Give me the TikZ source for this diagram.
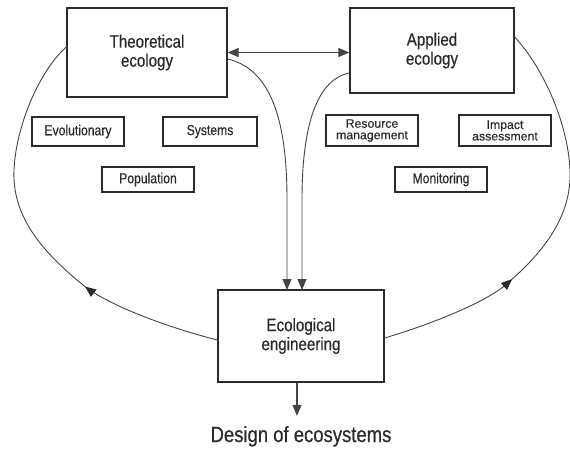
\documentclass[tikz,border=0pt]{standalone}
\usepackage{fontspec}
\setmainfont{Liberation Sans}[FakeStretch=0.84,FakeBold=0.5]
\newfontfamily\widefont{Liberation Sans}[FakeBold=0.5]
\usetikzlibrary{arrows.meta,decorations.markings}
\definecolor{ink}{HTML}{2B2B2B}
\definecolor{wire}{HTML}{444444}
\begin{document}
\begin{tikzpicture}[x=1pt,y=-1pt,
  >={Triangle[length=11pt,width=9pt]},
  box/.style={draw=ink,line width=1.3pt,inner sep=0pt,align=center,text=ink},
  bigbox/.style={box,font=\fontsize{18}{19}\selectfont},
  tag/.style={box,line width=1.1pt,font=\fontsize{14.5}{12}\selectfont},
  tagtwo/.style={box,line width=1.1pt,font=\widefont\fontsize{12.3}{11.5}\selectfont},
  flow/.style={draw=wire,line width=0.9pt},
  midarrow/.style={postaction={decorate},decoration={markings,
    mark=at position #1 with {\arrow[ink]{Triangle[length=11pt,width=9pt]}}}}
]
\useasboundingbox (0,0) rectangle (570,448);

% main boxes
\node[bigbox,minimum width=160pt,minimum height=89pt] (theo) at (147,52.5) {Theoretical\\ecology};
\node[bigbox,minimum width=164pt,minimum height=85pt] (app) at (432,50.5) {Applied\\ecology};
\node[bigbox,minimum width=166pt,minimum height=92pt] (eco) at (301,336) {Ecological\\engineering};

% sub-field tags
\node[tag,minimum width=92pt,minimum height=29pt] (evo) at (78,131.5) {Evolutionary};
\node[tag,minimum width=94pt,minimum height=29pt] (sys) at (210,131.5) {Systems};
\node[tag,minimum width=92pt,minimum height=25pt] (pop) at (148,179.5) {Population};
\node[tagtwo,minimum width=92pt,minimum height=31pt] (res) at (372,130.5) {Resource\\management};
\node[tagtwo,minimum width=92pt,minimum height=31pt] (imp) at (505,130.5) {Impact\\assessment};
\node[tag,minimum width=92pt,minimum height=25pt] (mon) at (441,179.5) {Monitoring};

% outcome
\node[text=ink,font=\fontsize{22}{23}\selectfont,anchor=base,inner sep=0pt] (design) at (301,442) {Design of ecosystems};

% theory <-> application
\draw[flow,line width=1.2pt,<->] (theo.east) -- (theo.east -| app.west);

% both fields feed ecological engineering
\draw[flow,->] ([yshift=-6.5pt]theo.east) .. controls (275,70) and (287,130) .. (287,200) -- (287,290);
\draw[flow,->] ([yshift=-22.5pt]app.west) .. controls (315,80) and (302,130) .. (302,200) -- (302,290);

% feedback loops back to the fields
\draw[flow,midarrow=0.34] ([yshift=-4pt]eco.west)
  .. controls (170,328) and (109,306) .. (83,285)
  .. controls (40,250) and (12,215) .. (14,170)
  .. controls (16,125) and (40,70) .. ([yshift=5.5pt]theo.west);
\draw[flow,midarrow=0.34] ([yshift=-2pt]eco.east)
  .. controls (425,326) and (478,306) .. (503,287)
  .. controls (545,252) and (572,215) .. (570,170)
  .. controls (568,125) and (545,70) .. ([yshift=13.5pt]app.east);

% output
\draw[flow,line width=1.2pt,->] ([xshift=-4pt]eco.south) -- ([xshift=-4pt,yshift=10pt]design.north);
\end{tikzpicture}
\end{document}
